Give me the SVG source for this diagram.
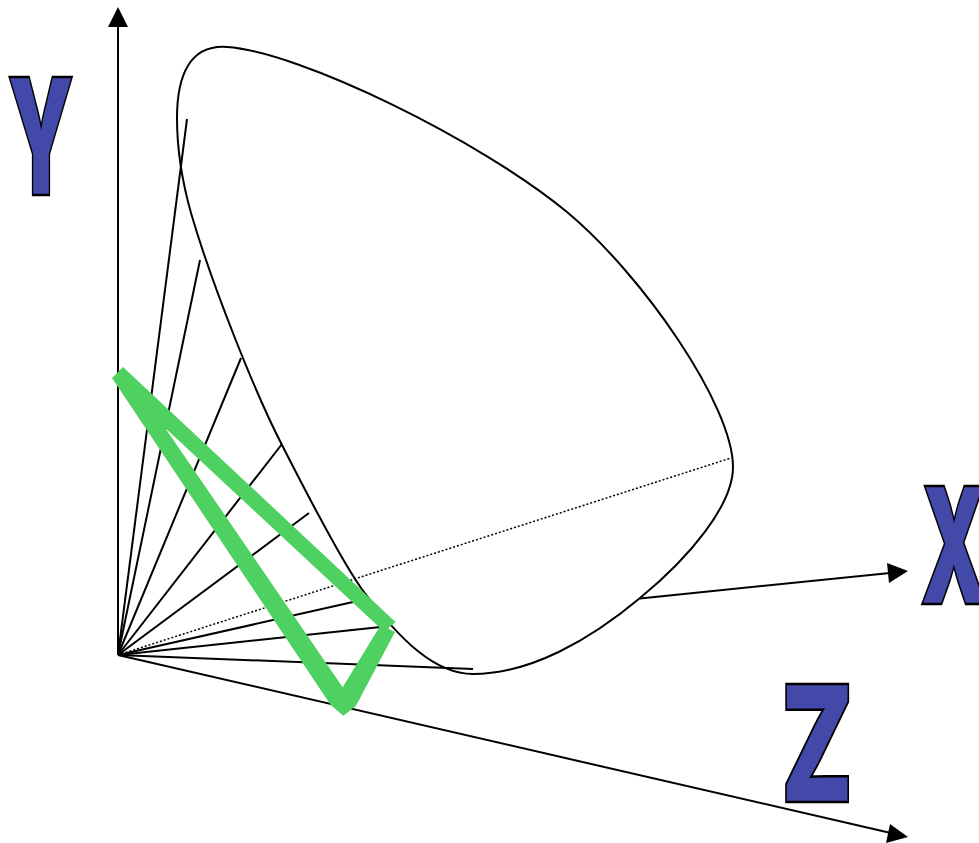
<svg xmlns="http://www.w3.org/2000/svg" width="979" height="843" viewBox="0 0 979 843">
<style>
.l{fill:none;stroke:#000;stroke-width:2}
.t{font-family:"Inter","DejaVu Sans",sans-serif;font-weight:900;font-size:162px;fill:#4349A8;stroke:#000;stroke-width:2.5}
</style>
<rect width="979" height="843" fill="#fff"/>
<g id="connectors">
<path class="l" d="M118 655V26"/>
<path d="M118 7L128 27H108Z"/>
<path class="l" d="M640 598.5L890 573"/>
<path d="M908 571L889 583L887 563Z"/>
<path class="l" d="M118 655L893 833.5"/>
<path d="M908 837L886 843L890 824Z"/>
<g class="l">
<path d="M118 655L187 119"/>
<path d="M118 655L200 260"/>
<path d="M118 655L241 358"/>
<path d="M118 655L282 444"/>
<path d="M118 655L309 513"/>
<path d="M118 655L353 602"/>
<path d="M118 655L390 626"/>
<path d="M118 655L473 669"/>
</g>
<path d="M118 655L731 458" fill="none" stroke="#000" stroke-width="1.5" stroke-dasharray="2 2"/>
</g>
<g id="surface">
<path class="l" d="M177 118C177 75 190 44.5 227 47C300 52 480 140 567 212C642 274.5 733 405 733 467C733 505 690 557 640 598C590 640 530 674 473 674C435 674 400 640 364 592C345 567 310 500 282 445C256 395 212 285 191 213C182 181 177 148 177 118Z"/>
</g>
<g id="triangle">
<path fill="#4FD162" fill-rule="evenodd" d="M112 378L123 367L395.5 622L388 628.5L395 632L356 705.7L343.3 715.7L330.7 705ZM165 427.7L379.3 627.3L342.7 687.3Z"/>
</g>
<g id="label-y"><text class="t" transform="translate(7.2 195) scale(.532 1)">Y</text></g>
<g id="label-x"><text class="t" transform="translate(920 604) scale(.532 1)">X</text></g>
<g id="label-z"><text class="t" transform="translate(780.7 802) scale(.647 1)">Z</text></g>
</svg>
